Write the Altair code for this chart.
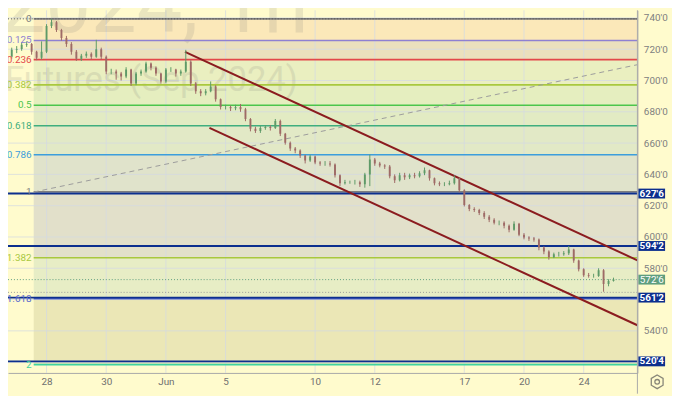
import altair as alt
import pandas as pd

# ---------------- data ----------------
first_open = 708.5
start_day = -1.5          # first bar, in trading days from May 28
bars_per_day = 6
closes = [710.8, 715.2, 719.6, 720.2, 722.8, 723.4, 718.3, 714.6, 718.3, 734.8,
          737.3, 732.2, 727.2, 723.4, 718.3, 713.9, 715.8, 717.1, 715.2, 720.0,
          715.2, 705.7, 705.7, 704.4, 702.6, 707.0, 698.1, 704.4, 705.7, 710.8,
          708.2, 704.4, 699.4, 707.0, 707.0, 704.4, 705.7, 712.0, 698.1, 693.1,
          691.8, 693.1, 696.2, 688.0, 683.0, 683.0, 682.3, 683.0, 681.7, 675.4,
          669.1, 667.8, 669.7, 670.3, 669.7, 674.1, 665.9, 660.2, 656.5, 655.2,
          652.0, 648.9, 651.4, 647.6, 647.0, 647.0, 646.3, 639.4, 634.4, 635.0,
          635.0, 635.0, 633.7, 640.0, 649.5, 647.0, 645.7, 645.1, 638.8, 636.2,
          639.4, 638.1, 639.4, 638.8, 640.7, 642.6, 637.5, 634.4, 633.7, 633.7,
          634.4, 637.5, 629.9, 620.5, 617.9, 617.3, 615.4, 612.9, 611.0, 609.1,
          609.1, 607.2, 604.6, 608.5, 601.5, 599.6, 599.0, 598.4, 593.3, 590.8,
          587.0, 588.9, 588.9, 589.6, 592.0, 585.0, 579.4, 575.6, 575.0, 575.0,
          578.8, 570.0, 571.8, 572.75]
highs = [712.0, 716.5, 721.0, 722.0, 724.5, 725.0, 724.0, 719.0, 725.0, 736.0,
         739.4, 738.0, 733.0, 728.5, 724.5, 719.5, 717.0, 718.5, 718.0, 726.0,
         721.0, 716.0, 707.5, 707.0, 705.5, 708.5, 707.5, 705.5, 707.0, 712.0,
         711.5, 709.0, 705.0, 708.0, 708.5, 707.5, 707.0, 719.6, 713.0, 699.0,
         694.5, 694.5, 699.4, 697.0, 688.5, 684.5, 684.0, 684.5, 685.0, 682.5,
         676.0, 670.5, 671.0, 671.5, 671.5, 675.4, 675.0, 666.5, 661.0, 657.5,
         656.0, 652.5, 652.5, 652.0, 648.5, 648.5, 648.5, 647.0, 640.0, 636.5,
         636.0, 636.5, 636.0, 641.0, 652.6, 650.5, 648.0, 646.5, 646.0, 640.0,
         641.0, 641.0, 640.5, 641.0, 642.0, 644.4, 643.0, 638.0, 635.5, 635.0,
         636.0, 639.4, 638.0, 630.5, 621.0, 619.0, 618.0, 616.5, 614.0, 612.0,
         610.5, 610.0, 608.0, 610.0, 609.0, 602.5, 600.5, 600.0, 599.0, 594.0,
         591.5, 590.0, 590.5, 591.0, 594.2, 592.5, 585.5, 580.0, 577.0, 576.5,
         580.0, 579.5, 573.0, 574.0]
lows = [706.5, 709.5, 714.0, 717.5, 719.0, 721.5, 716.5, 713.0, 713.5, 717.5,
        733.5, 731.0, 725.5, 721.5, 716.5, 712.5, 712.5, 714.5, 713.5, 714.5,
        713.5, 704.0, 704.0, 700.5, 700.0, 701.5, 696.5, 697.0, 703.0, 705.0,
        706.5, 703.0, 698.0, 698.5, 705.5, 702.5, 703.0, 705.0, 696.5, 691.5,
        690.0, 690.5, 692.5, 686.5, 681.5, 681.5, 680.5, 681.0, 680.0, 674.0,
        667.5, 666.5, 666.5, 668.5, 668.0, 669.0, 664.5, 659.0, 655.0, 653.5,
        650.5, 647.0, 648.0, 646.5, 645.5, 645.5, 645.0, 638.0, 632.5, 633.5,
        634.0, 633.5, 632.0, 631.5, 632.5, 645.5, 644.5, 643.5, 637.5, 634.5,
        635.5, 636.5, 637.0, 637.5, 638.0, 639.5, 636.0, 633.0, 632.5, 632.5,
        633.0, 633.5, 628.5, 619.5, 616.5, 616.0, 614.0, 611.5, 609.5, 608.0,
        607.5, 605.5, 603.0, 604.0, 600.5, 598.5, 597.5, 597.0, 591.5, 589.0,
        585.5, 586.5, 587.5, 588.0, 588.5, 583.5, 578.0, 574.5, 574.0, 574.0,
        574.5, 565.0, 568.5, 571.5]

tick_days = [0, 2, 4, 6, 9, 11, 14, 16, 18]
tick_labels = ["28", "30", "Jun", "5", "10", "12", "17", "20", "24"]
price_ticks = [540, 580, 600, 620, 640, 660, 680, 700, 720, 740]
grid_prices = [520, 540, 560, 580, 600, 620, 640, 660, 680, 700, 720, 740]

fib_high = 739.4
fib_span = 110.5
fib_start_day = -0.43
fib_label_day = -0.50
fib_ratios = [0, 0.125, 0.236, 0.382, 0.5, 0.618, 0.786, 1, 1.382, 1.618, 2]
fib_texts = ["0", "0.125", "0.236", "0.382", "0.5", "0.618", "0.786", "1", "1.382", "1.618", "2"]
fib_colors = ["#7d7d7d", "#8e80d2", "#e3474a", "#a9c83e", "#4cc54c", "#3fae7e",
              "#3c9edc", "#7d7d7d", "#a9c83e", "#5566cc", "#3fd3a0"]
band_colors = ["#fbe8b9", "#ebe0bd", "#eaefc0", "#e5eebf", "#e2ebc3",
               "#e2e9c6", "#e0e3cb", "#e2e0ca", "#e7edc5", "#ebe7b6"]

hline_prices = [627.75, 594.25, 561.25, 520.5]
hline_texts = ["627'6", "594'2", "561'2", "520'4"]
last_price = 572.75
last_text = "572'6"
low_dotted = 564.6
top_dotted = 739.4

upper_days = [4.64, 19.8]
upper_prices = [718.3, 585.1]
lower_days = [5.46, 19.8]
lower_prices = [669.7, 543.6]
dash_days = [-0.43, 19.8]
dash_prices = [628.7, 710.1]

watermark_1 = "ZSU2024, 1h"
watermark_2 = "Futures (Sep 2024)"

# ---------------- styling ----------------
W, H = 637, 367
BG = "#fffbcd"
NAVY = "#0c2f8e"
CHANNEL = "#8b1c1f"
BULL = "#5e9a68"
BEAR = "#9e6a66"
X_DOMAIN = [-1.2914, 19.801]
Y_DOMAIN = [513.11, 744.86]
FONT = "Roboto"

xs = alt.Scale(domain=X_DOMAIN, nice=False, zero=False)
ys = alt.Scale(domain=Y_DOMAIN, nice=False, zero=False)

label_expr = " : ".join(
    f"datum.value == {d} ? '{t}'" for d, t in zip(tick_days, tick_labels)
) + " : ''"

xaxis = alt.Axis(values=tick_days, labelExpr=label_expr, title=None, grid=False,
                 ticks=False, domainColor="#a9a9a9", labelColor="#6f6f6f",
                 labelFontSize=10, labelFont=FONT, labelPadding=4)
yaxis = alt.Axis(values=price_ticks, labelExpr="datum.value + \"'0\"", title=None,
                 orient="right", grid=False, ticks=False, domainColor="#a9a9a9",
                 labelColor="#808080", labelFontSize=10, labelFont=FONT,
                 labelPadding=6)


def X(f="d"):
    return alt.X(f"{f}:Q", scale=xs, axis=xaxis)


def Y(f="p"):
    return alt.Y(f"{f}:Q", scale=ys, axis=yaxis)


# candles
rows = []
prev = first_open
for k, (c, h, l) in enumerate(zip(closes, highs, lows)):
    rows.append({"d": start_day + k / bars_per_day, "o": prev, "c": c, "h": h, "l": l})
    prev = c
cdf = pd.DataFrame(rows)

# fib
fib_prices = [fib_high - r * fib_span for r in fib_ratios]
bands = pd.DataFrame({
    "d": [fib_start_day] * len(band_colors),
    "d2": [X_DOMAIN[1]] * len(band_colors),
    "p": fib_prices[:-1],
    "p2": fib_prices[1:],
    "col": band_colors,
})
fiblines = pd.DataFrame({
    "d": [fib_start_day] * len(fib_ratios),
    "d2": [X_DOMAIN[1]] * len(fib_ratios),
    "p": fib_prices,
    "col": fib_colors,
    "txt": fib_texts,
    "ld": [fib_label_day] * len(fib_ratios),
})

band_layer = alt.Chart(bands).mark_rect(clip=True).encode(
    x=X(), x2="d2", y=Y(), y2="p2", color=alt.Color("col:N", scale=None))

hgrid = alt.Chart(pd.DataFrame({"p": grid_prices})).mark_rule(
    color="#d3d9e2", strokeWidth=1, opacity=0.75).encode(y=Y())
vgrid = alt.Chart(pd.DataFrame({"d": tick_days})).mark_rule(
    color="#d3d9e2", strokeWidth=1, opacity=0.75).encode(x=X())

wm = pd.DataFrame({"t": [watermark_1]})
wm1 = alt.Chart(wm).mark_text(align="right", baseline="alphabetic", fontSize=82,
                              font=FONT, color="#6e6e6e", opacity=0.14).encode(
    x=alt.value(304), y=alt.value(22), text="t:N")
wm2 = alt.Chart(pd.DataFrame({"t": [watermark_2]})).mark_text(
    align="left", baseline="alphabetic", fontSize=35, font=FONT,
    color="#6e6e6e", opacity=0.14).encode(x=alt.value(-3), y=alt.value(82), text="t:N")

fib_rules = alt.Chart(fiblines).mark_rule(strokeWidth=1.6, clip=True).encode(
    x=X(), x2="d2", y=Y(), color=alt.Color("col:N", scale=None))
fib_text = alt.Chart(fiblines).mark_text(align="right", baseline="middle",
                                         fontSize=10, font=FONT).encode(
    x=X("ld"), y=Y(), text="txt:N", color=alt.Color("col:N", scale=None))

top_dot = alt.Chart(pd.DataFrame({"p": [top_dotted]})).mark_rule(
    color="#555555", strokeDash=[1, 2], strokeWidth=1).encode(y=Y())
low_dot = alt.Chart(pd.DataFrame({"p": [low_dotted]})).mark_rule(
    color="#9a9a9a", strokeDash=[1, 2], strokeWidth=1).encode(y=Y())
last_dot = alt.Chart(pd.DataFrame({"p": [last_price]})).mark_rule(
    color="#5f9e7f", strokeDash=[1, 2], strokeWidth=1).encode(y=Y())

navy = alt.Chart(pd.DataFrame({"p": hline_prices})).mark_rule(
    color=NAVY, strokeWidth=2).encode(y=Y())


def seg(days, prices):
    return pd.DataFrame({"d": [days[0]], "d2": [days[1]], "p": [prices[0]], "p2": [prices[1]]})


upper = alt.Chart(seg(upper_days, upper_prices)).mark_rule(
    color=CHANNEL, strokeWidth=2, clip=True).encode(x=X(), x2="d2", y=Y(), y2="p2")
lower = alt.Chart(seg(lower_days, lower_prices)).mark_rule(
    color=CHANNEL, strokeWidth=2, clip=True).encode(x=X(), x2="d2", y=Y(), y2="p2")
dashed = alt.Chart(seg(dash_days, dash_prices)).mark_rule(
    color="#9b9b9b", strokeWidth=1, strokeDash=[5, 4], clip=True).encode(
    x=X(), x2="d2", y=Y(), y2="p2")

candle_color = alt.condition("datum.c >= datum.o", alt.value(BULL), alt.value(BEAR))
wick = alt.Chart(cdf).mark_rule(strokeWidth=1, clip=True).encode(
    x=X(), y=Y("l"), y2="h", color=candle_color)
body = alt.Chart(cdf).mark_rule(strokeWidth=1.9, clip=True).encode(
    x=X(), y=Y("o"), y2="c", color=candle_color)

# right price boxes
boxes = pd.DataFrame({
    "p": hline_prices + [last_price],
    "txt": hline_texts + [last_text],
    "col": [NAVY] * len(hline_prices) + ["#5f9e7f"],
    "w": ["bold"] * len(hline_prices) + ["normal"],
})
box_rect = alt.Chart(boxes).mark_rule(strokeWidth=10).encode(
    x=alt.value(W + 1), x2=alt.value(W + 28), y=Y(), color=alt.Color("col:N", scale=None))
box_txt_b = alt.Chart(boxes[boxes.w == "bold"]).mark_text(
    color="white", fontSize=10, fontWeight="bold", font=FONT, align="center",
    baseline="middle").encode(x=alt.value(W + 14.5), y=Y(), text="txt:N")
box_txt_n = alt.Chart(boxes[boxes.w == "normal"]).mark_text(
    color="white", fontSize=10, font=FONT, align="center",
    baseline="middle").encode(x=alt.value(W + 14.5), y=Y(), text="txt:N")

divider = alt.Chart(pd.DataFrame({"a": [0]})).mark_rule(color="#a9a9a9").encode(
    x=alt.value(W), y=alt.value(0), y2=alt.value(H + 21))

gear_df = pd.DataFrame({"a": [0]})
hexagon = "M0,-1L0.866,-0.5L0.866,0.5L0,1L-0.866,0.5L-0.866,-0.5Z"
gear1 = alt.Chart(gear_df).mark_point(shape=hexagon, filled=False, size=190,
                                      color="#555555", strokeWidth=1.3).encode(
    x=alt.value(W + 20), y=alt.value(H + 9))
gear2 = alt.Chart(gear_df).mark_point(shape="circle", filled=False, size=22,
                                      color="#555555", strokeWidth=1.3).encode(
    x=alt.value(W + 20), y=alt.value(H + 9))

chart = alt.layer(
    band_layer, hgrid, vgrid, wm1, wm2, fib_rules, top_dot, low_dot, last_dot,
    navy, dashed, upper, lower, wick, body, fib_text, box_rect, box_txt_b,
    box_txt_n, divider, gear1, gear2,
).properties(
    width=W, height=H,
    autosize=alt.AutoSizeParams(type="none"),
    padding={"left": 0, "top": 0, "right": 35, "bottom": 21},
    background=BG,
).configure_view(stroke=None, fill=BG)

chart.save("out.html", embed_options={"renderer": "svg", "actions": False})
